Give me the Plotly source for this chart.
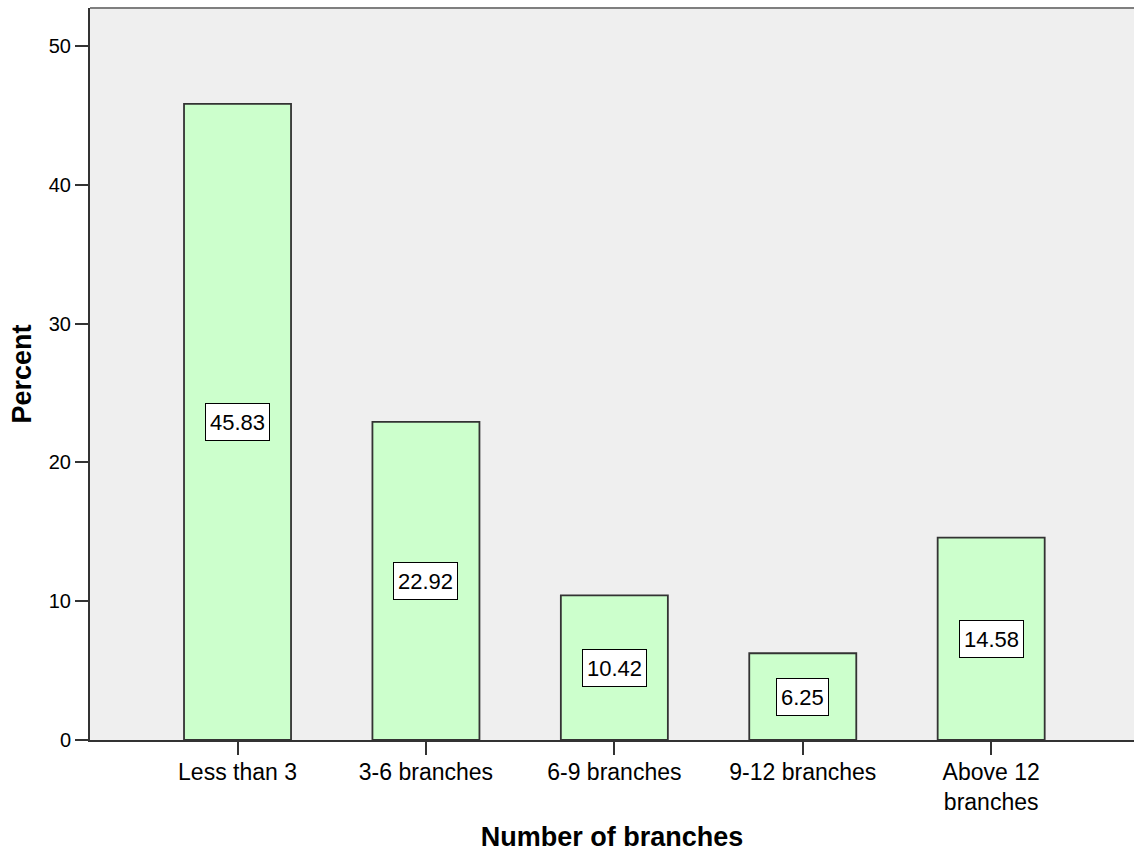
import plotly.graph_objects as go

categories = ["Less than 3", "3-6 branches", "6-9 branches", "9-12 branches", "Above 12<br>branches"]
percents = [45.83, 22.92, 10.42, 6.25, 14.58]
value_labels = ["45.83", "22.92", "10.42", "6.25", "14.58"]
y_ticks = [0, 10, 20, 30, 40, 50]

FONT = "Liberation Sans, Arial, sans-serif"

fig = go.Figure()
fig.add_trace(go.Bar(
    x=list(range(len(categories))),
    y=percents,
    marker=dict(color="#CCFFCC", line=dict(color="#333333", width=1.8)),
    hoverinfo="skip",
))

for i, (v, lab) in enumerate(zip(percents, value_labels)):
    fig.add_annotation(
        x=i, y=v / 2, text=lab, showarrow=False, height=28,
        font=dict(family=FONT, size=22, color="#000000"),
        bgcolor="#FFFFFF", bordercolor="#000000", borderwidth=1, borderpad=4,
    )

fig.add_shape(type="line", xref="paper", yref="paper", x0=0, x1=1, y0=1, y1=1,
              line=dict(color="#7f7f7f", width=2))

fig.update_layout(
    width=1134, height=852,
    margin=dict(l=90, r=0, t=8, b=112, autoexpand=False),
    paper_bgcolor="#FFFFFF", plot_bgcolor="#EFEFEF",
    bargap=0.432, showlegend=False,
    font=dict(family=FONT, color="#000000"),
)
fig.update_xaxes(
    range=[-0.783, 4.758], automargin=False,
    tickmode="array", tickvals=list(range(len(categories))), ticktext=categories,
    ticks="outside", ticklen=13, tickwidth=2, tickcolor="#333333",
    ticklabelstandoff=-3,
    tickfont=dict(family=FONT, size=23, color="#000000"),
    showline=True, linecolor="#333333", linewidth=2,
    showgrid=False, zeroline=False,
    title=dict(text="<b>Number of branches</b>", font=dict(family=FONT, size=27, color="#000000"), standoff=22),
)
fig.update_yaxes(
    range=[0, 52.74], automargin=False,
    tickmode="array", tickvals=y_ticks, ticktext=[str(t) for t in y_ticks],
    ticks="outside", ticklen=13, tickwidth=2, tickcolor="#333333",
    tickfont=dict(family=FONT, size=20, color="#000000"),
    showline=True, linecolor="#333333", linewidth=2,
    showgrid=False, zeroline=False,
    title=dict(text="<b>Percent</b>", font=dict(family=FONT, size=27, color="#000000"), standoff=9),
)

fig.write_html("out.html")
